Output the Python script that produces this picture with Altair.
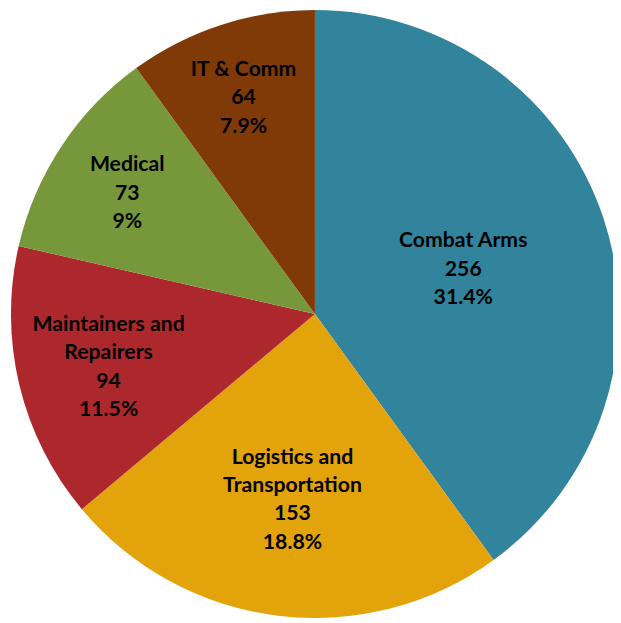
import altair as alt
import pandas as pd

categories = ["Combat Arms", "Logistics and Transportation", "Maintainers and Repairers", "Medical", "IT & Comm"]
values = [256, 153, 94, 73, 64]
pct_labels = ["31.4%", "18.8%", "11.5%", "9%", "7.9%"]
name_lines = [["Combat Arms"], ["Logistics and", "Transportation"], ["Maintainers and", "Repairers"], ["Medical"], ["IT & Comm"]]
colors = ["#31849B", "#E2A30B", "#AD282C", "#77983A", "#803A08"]

# styling: radial distance of each label from the pie centre (px)
label_radius = [158, 186, 215, 228, 234]

df = pd.DataFrame({
    "category": categories,
    "value": values,
    "order": list(range(len(categories))),
    "label": ["\n".join(n + [str(v), p]) for n, v, p in zip(name_lines, values, pct_labels)],
    "lr": label_radius,
})

CX, CY, R = 311, 306, 308
LH = 28.7

pie = alt.Chart(df).mark_arc(radius=R, stroke=None).encode(
    theta=alt.Theta("value:Q", stack=True),
    order=alt.Order("order:Q"),
    x=alt.value(CX), y=alt.value(CY),
    color=alt.Color("category:N", scale=alt.Scale(domain=categories, range=colors), legend=None),
)

labels = alt.Chart(df).transform_window(
    cum="sum(value)", sort=[alt.SortField("order")], frame=[None, 0]
).transform_joinaggregate(
    total="sum(value)"
).transform_calculate(
    mid="(datum.cum - datum.value / 2) / datum.total * 2 * PI",
    nl="length(split(datum.label, '\\n'))",
).transform_calculate(
    px=f"{CX} + datum.lr * sin(datum.mid)",
    py=f"{CY} + 4 - datum.lr * cos(datum.mid) - (datum.nl - 1) * {LH} / 2",
).mark_text(
    font="Lato", fontWeight="bold", fontSize=21.5, lineHeight=LH,
    lineBreak="\n", align="center", baseline="middle", color="black",
).encode(
    x=alt.X("px:Q", scale=None),
    y=alt.Y("py:Q", scale=None),
    text="label:N",
)

chart = (pie + labels).properties(
    width=613, height=615, padding=0, autosize=alt.AutoSizeParams(type="none"),
).configure_view(stroke=None)

chart.save("out.html", embed_options={"renderer": "svg", "actions": False})
